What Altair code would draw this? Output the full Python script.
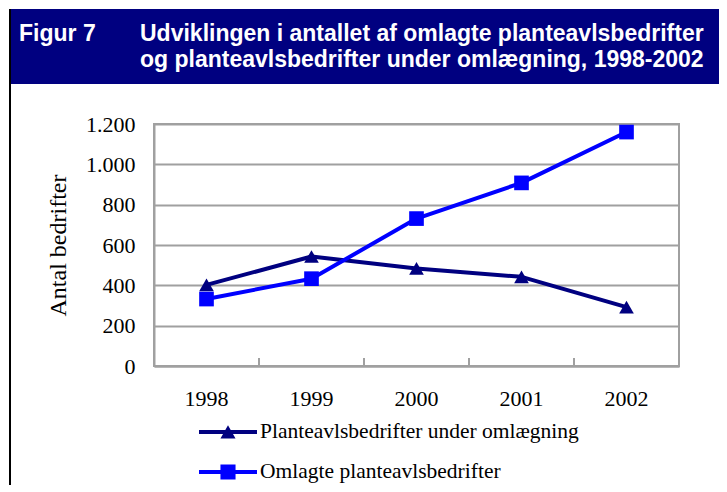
import altair as alt
import pandas as pd

# ---- data ----
years = ["1998", "1999", "2000", "2001", "2002"]
series_names = ["Planteavlsbedrifter under omlægning", "Omlagte planteavlsbedrifter"]
under_omlaegning = [402, 543, 484, 442, 292]
omlagte = [332, 433, 731, 908, 1160]
y_ticks = [0, 200, 400, 600, 800, 1000, 1200]
figure_label = "Figur 7"
title_lines = [
    "Udviklingen i antallet af omlagte planteavlsbedrifter",
    "og planteavlsbedrifter under omlægning, 1998-2002",
]
y_title = "Antal bedrifter"

# ---- styling ----
NAVY = "#000080"
BLUE = "#0000FF"
GRID = "#a0a0a0"
SERIF = "Liberation Serif"
SANS = "Liberation Sans"
W, H = 525, 242

df = pd.DataFrame({
    "year": years * 2,
    "series": [series_names[0]] * len(years) + [series_names[1]] * len(years),
    "value": under_omlaegning + omlagte,
})
years_df = pd.DataFrame({"year": years})
one = pd.DataFrame({"k": [0]})

x_scale = alt.Scale(type="band", domain=years, paddingInner=0, paddingOuter=0)
x_axis = alt.Axis(title=None, ticks=False, grid=False, domainColor=GRID, domainWidth=2,
                  labelFont=SERIF, labelFontSize=22, labelColor="black", labelPadding=22,
                  labelAngle=0)
y_scale = alt.Scale(domain=[0, 1200], nice=False)
y_axis = alt.Axis(title=y_title, values=y_ticks, ticks=False, grid=True, gridColor=GRID,
                  gridWidth=2, domainColor=GRID, domainWidth=2, labelFont=SERIF,
                  labelFontSize=22, labelColor="black", labelPadding=19,
                  labelExpr="replace(format(datum.value, ',d'), ',', '.')",
                  titleFont=SERIF, titleFontSize=24, titleFontWeight="normal",
                  titleColor="black", titleAngle=270, titleBaseline="alphabetic",
                  titleAlign="center", titleX=-89, titleY=H / 2)

color_scale = alt.Scale(domain=series_names, range=[NAVY, BLUE])

x_enc = alt.X("year:N", scale=x_scale, axis=x_axis, sort=years)
y_enc = alt.Y("value:Q", scale=y_scale, axis=y_axis)

# header band, frame line and header texts
band = alt.Chart(one).mark_rect(color=NAVY).encode(
    x=alt.value(-143), x2=alt.value(565), y=alt.value(-115), y2=alt.value(-40))
frame = alt.Chart(one).mark_rule(color="black", strokeWidth=2).encode(
    x=alt.value(-144), y=alt.value(-115), y2=alt.value(361))
fig_text = alt.Chart(one).mark_text(
    text=figure_label, font=SANS, fontSize=23, fontWeight="bold", color="white",
    align="left", baseline="alphabetic").encode(x=alt.value(-135), y=alt.value(-83))
title_text = alt.Chart(one).mark_text(
    text=title_lines, font=SANS, fontSize=23, fontWeight="bold", color="white",
    align="left", baseline="alphabetic", lineHeight=26).encode(x=alt.value(-14), y=alt.value(-83))

# inward tick marks between categories
ticks = alt.Chart(years_df).mark_rule(color=GRID, strokeWidth=2).encode(
    x=alt.X("year:N", scale=x_scale, axis=x_axis, sort=years, bandPosition=0),
    y=alt.value(H), y2=alt.value(H - 8))

base = alt.Chart(df)
lines = base.mark_line(strokeWidth=4, strokeJoin="round").encode(
    x=x_enc, y=y_enc, color=alt.Color("series:N", scale=color_scale, legend=None))
points = base.mark_point(filled=True, size=215, opacity=1).encode(
    x=x_enc, y=y_enc,
    color=alt.Color("series:N", scale=color_scale, legend=None),
    shape=alt.Shape("series:N", scale=alt.Scale(domain=series_names,
                                                 range=["triangle-up", "square"]),
                    legend=None))

# legend: line-with-marker symbols as custom paths
tri_path = "M-1,-0.07H1V0.07H-1Z M0,-0.23L0.26,0.22L-0.26,0.22Z"
sq_path = "M-1,-0.07H1V0.07H-1Z M-0.26,-0.26H0.26V0.26H-0.26Z"
leg = alt.Legend(title=None, orient="none", legendX=45, legendY=279, padding=0,
                 symbolSize=3364, symbolStrokeWidth=0, labelFont=SERIF,
                 labelFontSize=21.5, labelColor="black", labelOffset=3,
                 rowPadding=-2, labelLimit=600, symbolOpacity=1)
legend_layer = base.mark_point(filled=True, opacity=1).encode(
    x=x_enc, y=y_enc,
    color=alt.Color("series:N", scale=alt.Scale(domain=series_names, range=[NAVY, BLUE]),
                    legend=leg),
    shape=alt.Shape("series:N", scale=alt.Scale(domain=series_names,
                                                 range=[tri_path, sq_path]),
                    legend=leg),
).transform_filter("false")

chart = alt.layer(band, frame, fig_text, title_text, ticks, lines, points, legend_layer).resolve_scale(
    shape="independent", color="independent"
).properties(
    width=W, height=H,
    padding={"left": 1, "top": 0, "right": 0, "bottom": 0},
    background="white",
).configure_view(stroke=GRID, strokeWidth=2)

chart.save("out.html", embed_options={"renderer": "svg", "actions": False})
